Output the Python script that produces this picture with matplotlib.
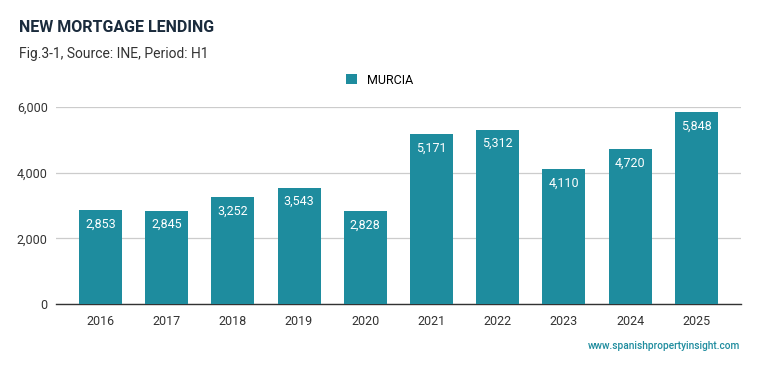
import matplotlib.pyplot as plt
import matplotlib.ticker as mticker

plt.rcParams['font.family'] = ['Roboto', 'DejaVu Sans']

years = ['2016', '2017', '2018', '2019', '2020', '2021', '2022', '2023', '2024', '2025']
murcia = [2853, 2845, 3252, 3543, 2828, 5171, 5312, 4110, 4720, 5848]

bar_color = '#1E8C9E'

fig = plt.figure(figsize=(7.59, 3.71), dpi=100)
ax = fig.add_axes([0.0738, 0.1806, 0.9022, 0.531])

x = range(len(years))
bars = ax.bar(x, murcia, width=0.65, color=bar_color, label='MURCIA', zorder=3)

for b, v in zip(bars, murcia):
    ax.text(b.get_x() + b.get_width() / 2, v - 230, f'{v:,}', ha='center', va='top',
            color='white', fontsize=9, zorder=4)

ax.set_xlim(-0.67, 9.67)
ax.set_ylim(0, 6000)
ax.set_yticks([0, 2000, 4000, 6000])
ax.yaxis.set_major_formatter(mticker.FuncFormatter(lambda v, p: f'{int(v):,}'))
ax.set_xticks(list(x))
ax.set_xticklabels(years)
ax.tick_params(axis='both', length=0, labelsize=9, colors='#333333')
ax.tick_params(axis='x', pad=8)
ax.tick_params(axis='y', pad=6)
ax.grid(axis='y', color='#cccccc', linewidth=0.9, zorder=0)
for s in ['top', 'right', 'left']:
    ax.spines[s].set_visible(False)
ax.spines['bottom'].set_color('#333333')
ax.spines['bottom'].set_linewidth(1)

fig.legend(loc='center', bbox_to_anchor=(0.5, 1 - 80 / 371), frameon=False, fontsize=9,
           handlelength=0.9, handleheight=0.9, handletextpad=0.8)

fig.text(19 / 759, 1 - 27 / 371, 'NEW MORTGAGE LENDING', fontsize=11.5, fontweight='bold',
         color='#1a2b3c', va='center')
fig.text(19 / 759, 1 - 54 / 371, 'Fig.3-1, Source: INE, Period: H1', fontsize=10,
         color='#333333', va='center')
fig.text(740 / 759, 1 - 346 / 371, 'www.spanishpropertyinsight.com', fontsize=7.3,
         color='#1E8C9E', ha='right', va='center', fontweight='medium')

fig.savefig('out.png', dpi=100)
